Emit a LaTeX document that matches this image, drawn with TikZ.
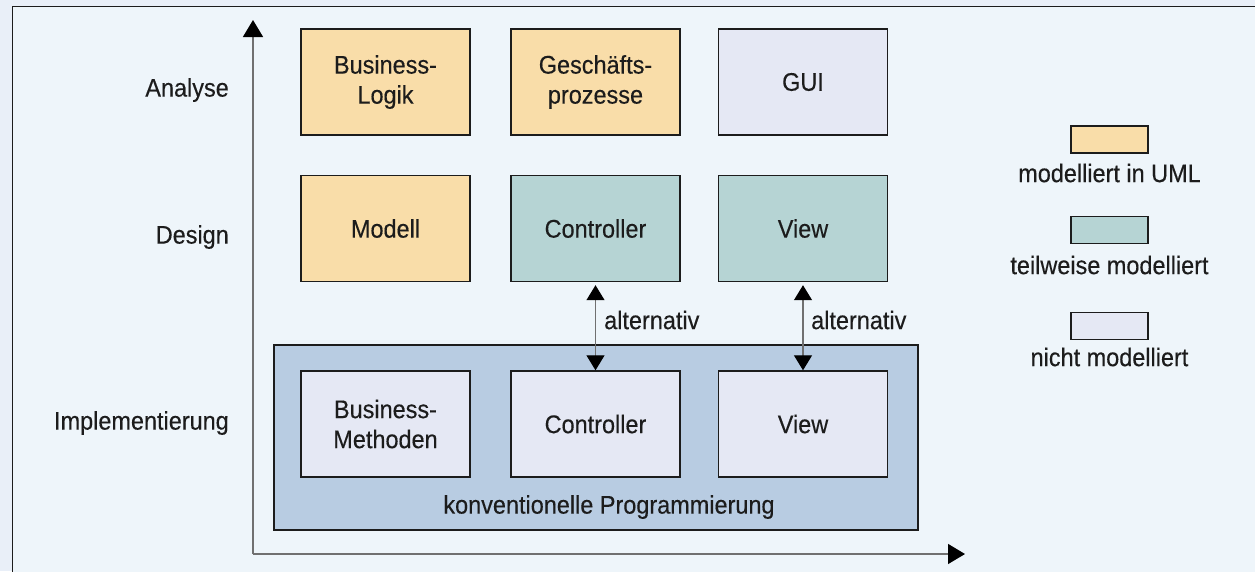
\documentclass[tikz,border=0pt]{standalone}
\usepackage{fontspec}
\setmainfont{Liberation Sans}[FakeStretch=0.92, FakeBold=0.3]
\usetikzlibrary{arrows.meta}
\definecolor{pagebg}{HTML}{E9EFF8}
\definecolor{panelbg}{HTML}{EEF5FA}
\definecolor{umlfill}{HTML}{F9DDA9}
\definecolor{partfill}{HTML}{B6D4D4}
\definecolor{nonefill}{HTML}{E5E8F4}
\definecolor{implfill}{HTML}{B8CCE2}
\definecolor{inkgray}{HTML}{1C1C1C}
\definecolor{axisgray}{HTML}{707070}
\tikzset{
  box/.style={draw=inkgray, line width=1.4pt, minimum width=169pt, minimum height=106pt,
    inner sep=0pt, align=center, font=\fontsize{25.5}{30}\selectfont, text=inkgray},
  uml/.style={box, fill=umlfill},
  part/.style={box, fill=partfill},
  none/.style={box, fill=nonefill},
  legendbox/.style={draw=inkgray, line width=1.4pt, minimum width=77pt, minimum height=27pt, inner sep=0pt},
  lbl/.style={font=\fontsize{25.5}{30}\selectfont, text=inkgray, inner sep=0pt},
  axis/.style={draw=axisgray, line width=1.3pt, -{Triangle[width=20pt,length=17pt,fill=black,color=black]}},
  altarrow/.style={draw=axisgray, line width=1.2pt,
    {Triangle[width=18pt,length=15pt,fill=black,color=black]}-{Triangle[width=18pt,length=15pt,fill=black,color=black]}}
}
\begin{document}
\begin{tikzpicture}[x=1pt, y=-1pt]
  \useasboundingbox (0,0) rectangle (1255,571);
  \fill[pagebg] (0,0) rectangle (1255,571);
  \begin{scope}
    \clip (0,0) rectangle (1255,571);
    \draw[inkgray, line width=1.6pt, fill=panelbg] (12.5,6.5) rectangle (1262,580);
  \end{scope}

  % axes
  \coordinate (origin) at (253,554);
  \coordinate (ytip) at (253,20);
  \coordinate (xtip) at (965,554);
  \draw[axis] (origin) -- (ytip);
  \draw[axis] (origin) -- (xtip);

  % row labels
  \node[lbl, anchor=east] (lanalyse) at (229,90) {Analyse};
  \node[lbl, anchor=east] (ldesign) at (229,237) {Design};
  \node[lbl, anchor=east] (limpl) at (229,423) {Implementierung};

  % conventional programming container
  \node[draw=inkgray, line width=1.4pt, fill=implfill, minimum width=644pt, minimum height=185pt, inner sep=0pt]
    (container) at (596,437.5) {};
  \node[lbl] (conv) at (609,507) {konventionelle Programmierung};

  % analysis row
  \node[uml] (blogik) at (385.5,82) {Business-\\Logik};
  \node[uml] (gproz) at (595.5,82) {Geschäfts-\\prozesse};
  \node[none] (gui) at (803,82) {GUI};

  % design row
  \node[uml] (modell) at (385.5,228.5) {Modell};
  \node[part] (dctrl) at (595.5,228.5) {Controller};
  \node[part] (dview) at (803,228.5) {View};

  % implementation row
  \node[none] (bmeth) at (385.5,424) {Business-\\Methoden};
  \node[none] (ictrl) at (595.5,424) {Controller};
  \node[none] (iview) at (803,424) {View};

  % alternative links
  \draw[altarrow] ([yshift=-3pt]dctrl.south) -- (ictrl.north);
  \draw[altarrow] ([yshift=-3pt]dview.south) -- (iview.north);
  \node[lbl, anchor=west] (alt1) at (604,320) {alternativ};
  \node[lbl, anchor=west] (alt2) at (811,320) {alternativ};

  % legend
  \node[legendbox, fill=umlfill] (leg1) at (1109.5,139.5) {};
  \node[lbl] (legt1) at (1109.5,173) {modelliert in UML};
  \node[legendbox, fill=partfill] (leg2) at (1109.5,230) {};
  \node[lbl] (legt2) at (1109.5,265) {teilweise modelliert};
  \node[legendbox, fill=nonefill] (leg3) at (1109.5,326) {};
  \node[lbl] (legt3) at (1109.5,357) {nicht modelliert};
\end{tikzpicture}
\end{document}
